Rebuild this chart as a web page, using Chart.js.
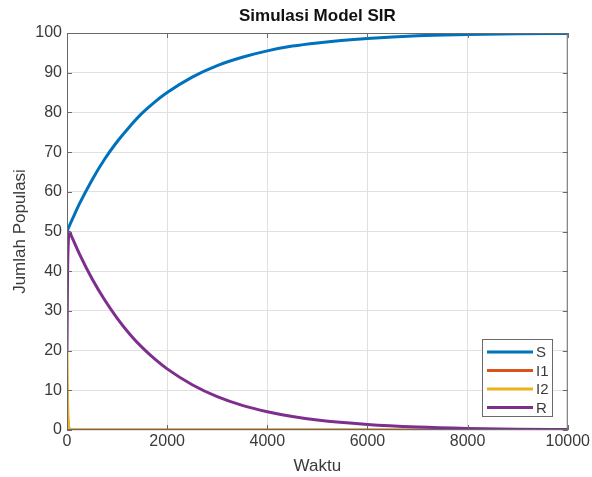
<!DOCTYPE html>
<html>
<head>
<meta charset="utf-8">
<script src="https://cdn.jsdelivr.net/npm/chart.js@4/dist/chart.umd.min.js"></script>
<style>
  html, body { margin: 0; padding: 0; background: #fff; }
  #wrap { width: 592px; height: 477px; }
</style>
</head>
<body>
<div id="wrap"><canvas id="chart" width="592" height="477"></canvas></div>
<script>
// values
var waktu = [0, 10, 25, 50, 100, 250, 500, 750, 1000, 1250, 1500, 1750, 2000, 2500, 3000, 3500, 4000, 4500, 5000, 6000, 7000, 8000, 9000, 10000];
var sData  = [50, 50.3, 50.8, 51.5, 52.9, 57, 63, 68.2, 72.6, 76.4, 79.8, 82.6, 85, 88.9, 91.8, 93.9, 95.5, 96.7, 97.5, 98.6, 99.3, 99.6, 99.8, 99.9];
var i1Data = [10, 4, 1, 0.1, 0, 0, 0, 0, 0, 0, 0, 0, 0, 0, 0, 0, 0, 0, 0, 0, 0, 0, 0, 0];
var i2Data = [20, 8, 2, 0.3, 0, 0, 0, 0, 0, 0, 0, 0, 0, 0, 0, 0, 0, 0, 0, 0, 0, 0, 0, 0];
var rData  = [20, 38, 47, 49.8, 48.5, 44.3, 38.1, 32.8, 28.2, 24.2, 20.8, 17.9, 15.4, 11.4, 8.4, 6.2, 4.6, 3.4, 2.5, 1.4, 0.76, 0.4, 0.2, 0.1];

var seriesNames = ['S', 'I1', 'I2', 'R'];
var seriesColors = ['#0072BD', '#D95319', '#EDB120', '#7E2F8E'];
var seriesValues = [sData, i1Data, i2Data, rData];

var xTicks = [0, 2000, 4000, 6000, 8000, 10000];
var yTicks = [0, 10, 20, 30, 40, 50, 60, 70, 80, 90, 100];

var FONT = "'Liberation Sans', Arial, sans-serif";
var TEXT = '#3a3a3a';

function toPoints(vals) {
    var pts = [];
    for (var i = 0; i < waktu.length; i++) {
        pts.push({ x: waktu[i], y: vals[i] });
    }
    return pts;
}

var datasets = [];
for (var k = 0; k < seriesNames.length; k++) {
    datasets.push({
        label: seriesNames[k],
        data: toPoints(seriesValues[k]),
        borderColor: seriesColors[k],
        backgroundColor: seriesColors[k],
        borderWidth: 3,
        pointRadius: 0,
        cubicInterpolationMode: 'monotone',
        fill: false,
        order: seriesNames.length - k
    });
}

// box, inner ticks, title and legend in MATLAB style
var matlabPlugin = {
    id: 'matlab',
    afterDraw: function(chart) {
        var ctx = chart.ctx;
        var a = chart.chartArea;
        var xs = chart.scales.x, ys = chart.scales.y;
        ctx.save();
        ctx.strokeStyle = '#6a6a6a';
        ctx.lineWidth = 1;
        ctx.strokeRect(a.left + 0.5, a.top + 0.5, a.right - a.left - 1, a.bottom - a.top - 1);
        var tl = 5;
        ctx.beginPath();
        for (var i = 0; i < xTicks.length; i++) {
            var px = Math.round(xs.getPixelForValue(xTicks[i])) + 0.5;
            ctx.moveTo(px, a.bottom); ctx.lineTo(px, a.bottom - tl);
            ctx.moveTo(px, a.top); ctx.lineTo(px, a.top + tl);
        }
        for (var j = 0; j < yTicks.length; j++) {
            var py = Math.round(ys.getPixelForValue(yTicks[j])) + 0.5;
            ctx.moveTo(a.left, py); ctx.lineTo(a.left + tl, py);
            ctx.moveTo(a.right, py); ctx.lineTo(a.right - tl, py);
        }
        ctx.stroke();

        // title
        ctx.fillStyle = '#111';
        ctx.font = 'bold 17px ' + FONT;
        ctx.textAlign = 'center';
        ctx.textBaseline = 'middle';
        ctx.fillText('Simulasi Model SIR', (a.left + a.right) / 2, 16);

        // legend box
        var lx = 482, ly = 339, lw = 70, lh = 77;
        ctx.fillStyle = '#fff';
        ctx.fillRect(lx, ly, lw, lh);
        ctx.strokeStyle = '#6a6a6a';
        ctx.lineWidth = 1;
        ctx.strokeRect(lx + 0.5, ly + 0.5, lw, lh);
        ctx.font = '15px ' + FONT;
        ctx.textAlign = 'left';
        for (var n = 0; n < seriesNames.length; n++) {
            var yy = ly + 13 + n * 18.5;
            ctx.strokeStyle = seriesColors[n];
            ctx.lineWidth = 3;
            ctx.beginPath();
            ctx.moveTo(lx + 5, yy);
            ctx.lineTo(lx + 51, yy);
            ctx.stroke();
            ctx.fillStyle = TEXT;
            ctx.fillText(seriesNames[n], lx + 54, yy + 1);
        }
        ctx.restore();
    }
};

new Chart(document.getElementById('chart').getContext('2d'), {
    type: 'line',
    data: { datasets: datasets },
    options: {
        responsive: false,
        animation: false,
        layout: { padding: { left: 6, right: 24, top: 33, bottom: 0 } },
        plugins: {
            legend: { display: false },
            tooltip: { enabled: false },
            title: { display: false }
        },
        scales: {
            x: {
                type: 'linear',
                min: 0,
                max: 10000,
                afterFit: function(scale) { scale.height = 47; },
                afterBuildTicks: function(scale) {
                    scale.ticks = xTicks.map(function(v) { return { value: v }; });
                },
                grid: { color: '#e0e0e0', tickLength: 0, drawTicks: false },
                border: { display: false },
                ticks: {
                    color: TEXT,
                    font: { family: FONT, size: 16 },
                    padding: 2,
                    maxRotation: 0,
                    callback: function(v) { return String(v); }
                },
                title: {
                    display: true,
                    text: 'Waktu',
                    color: TEXT,
                    font: { family: FONT, size: 17 },
                    padding: { top: 0, bottom: 0 }
                }
            },
            y: {
                type: 'linear',
                min: 0,
                max: 100,
                afterFit: function(scale) { scale.width = 61; },
                afterBuildTicks: function(scale) {
                    scale.ticks = yTicks.map(function(v) { return { value: v }; });
                },
                grid: { color: '#e0e0e0', tickLength: 0, drawTicks: false },
                border: { display: false },
                ticks: {
                    color: TEXT,
                    font: { family: FONT, size: 16 },
                    padding: 5
                },
                title: {
                    display: true,
                    text: 'Jumlah Populasi',
                    color: TEXT,
                    font: { family: FONT, size: 17 },
                    padding: { top: 4, bottom: 0 }
                }
            }
        }
    },
    plugins: [matlabPlugin]
});
</script>
</body>
</html>
